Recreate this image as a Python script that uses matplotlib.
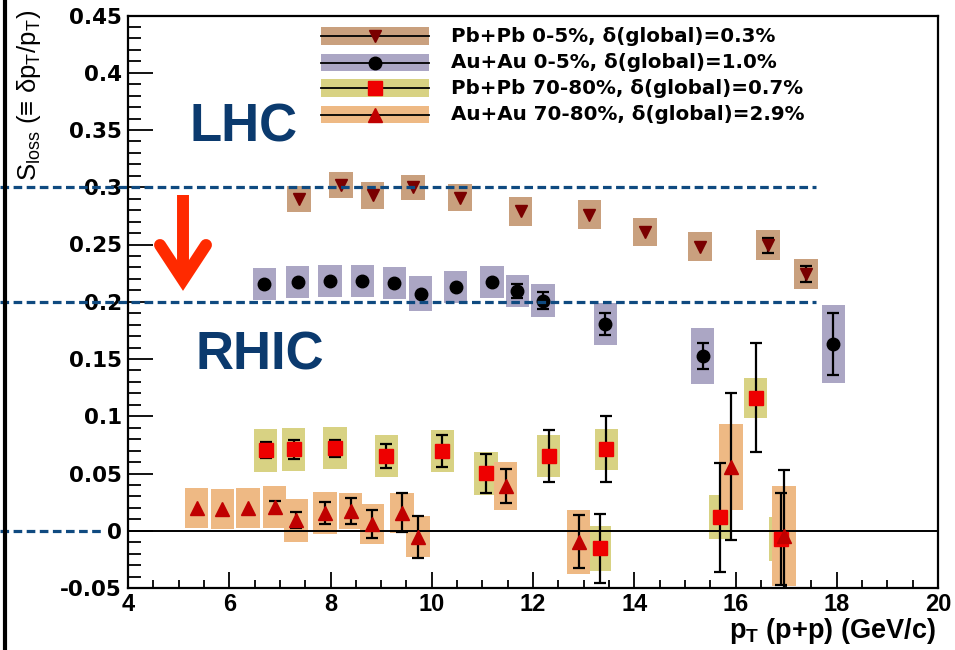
import matplotlib
matplotlib.use('Agg')
import matplotlib.pyplot as plt
import numpy as np
from matplotlib.patches import Rectangle
from matplotlib.transforms import blended_transform_factory
from matplotlib.ticker import FixedLocator, MultipleLocator

plt.rcParams['mathtext.fontset'] = 'custom'
plt.rcParams['mathtext.rm'] = 'Liberation Sans'
plt.rcParams['mathtext.it'] = 'Liberation Sans'
plt.rcParams['mathtext.bf'] = 'Liberation Sans:bold'

# ---------------- data ----------------
# Pb+Pb 0-5%
pbpb_c_x = [7.38, 8.21, 8.83, 9.63, 10.56, 11.76, 13.11, 14.21, 15.30, 16.64, 17.39]
pbpb_c_y = [0.290, 0.302, 0.293, 0.300, 0.291, 0.279, 0.276, 0.261, 0.248, 0.2495, 0.224]
pbpb_c_stat = [0, 0, 0, 0, 0, 0, 0, 0, 0, 0.0065, 0.007]
pbpb_c_sys = [0.0115, 0.011, 0.012, 0.011, 0.012, 0.0125, 0.0125, 0.012, 0.0125, 0.013, 0.013]

# Au+Au 0-5%
auau_c_x = [6.69, 7.35, 7.99, 8.63, 9.26, 9.78, 10.47, 11.19, 11.69, 12.20, 13.43, 15.35, 17.93]
auau_c_y = [0.2155, 0.217, 0.218, 0.218, 0.2166, 0.207, 0.2126, 0.2175, 0.2093, 0.201, 0.1805, 0.1529, 0.163]
auau_c_stat = [0, 0, 0, 0, 0, 0, 0, 0, 0.0058, 0.0075, 0.0095, 0.0112, 0.0272]
auau_c_sys = [0.014, 0.014, 0.0138, 0.0138, 0.014, 0.0155, 0.014, 0.014, 0.014, 0.0143, 0.018, 0.0243, 0.034]

# Pb+Pb 70-80%
pbpb_p_x = [6.72, 7.27, 8.09, 9.10, 10.21, 11.07, 12.31, 13.32, 13.45, 15.70, 16.40, 16.90]
pbpb_p_y = [0.0702, 0.0711, 0.072, 0.0652, 0.0696, 0.0501, 0.0652, -0.0154, 0.0711, 0.0117, 0.1162, -0.0072]
pbpb_p_stat = [0.007, 0.0083, 0.0076, 0.0104, 0.0141, 0.0173, 0.0225, 0.030, 0.0289, 0.0476, 0.0475, 0.040]
pbpb_p_sys = [0.0185, 0.0185, 0.0182, 0.0185, 0.0182, 0.0187, 0.018, 0.0197, 0.0178, 0.0192, 0.0173, 0.0192]

# Au+Au 70-80%
auau_p_x = [5.36, 5.86, 6.37, 6.90, 7.32, 7.89, 8.40, 8.82, 9.41, 9.73, 11.46, 12.90, 15.91, 16.96]
auau_p_y = [0.0196, 0.0187, 0.0196, 0.0207, 0.0093, 0.0157, 0.0172, 0.0058, 0.0157, -0.0052, 0.039, -0.0096, 0.0559, -0.0046]
auau_p_stat = [0, 0, 0, 0.0055, 0.0067, 0.0095, 0.0113, 0.0124, 0.0172, 0.0185, 0.0146, 0.023, 0.0642, 0.058]
auau_p_sys = [0.0175, 0.0175, 0.0175, 0.0182, 0.0188, 0.0183, 0.0159, 0.0175, 0.0175, 0.018, 0.021, 0.0281, 0.0375, 0.0435]

legend_labels = ['Pb+Pb 0-5%, δ(global)=0.3%',
                 'Au+Au 0-5%, δ(global)=1.0%',
                 'Pb+Pb 70-80%, δ(global)=0.7%',
                 'Au+Au 70-80%, δ(global)=2.9%']

xticks = [4, 6, 8, 10, 12, 14, 16, 18, 20]
xtick_labels = ['4', '6', '8', '10', '12', '14', '16', '18', '20']
yticks = [-0.05, 0, 0.05, 0.1, 0.15, 0.2, 0.25, 0.3, 0.35, 0.4, 0.45]
ytick_labels = ['-0.05', '0', '0.05', '0.1', '0.15', '0.2', '0.25', '0.3', '0.35', '0.4', '0.45']
ref_levels = [0.3, 0.2]

# ---------------- styles ----------------
W, H = 955, 650
BOXW = 0.46
series = [
    (pbpb_c_x, pbpb_c_y, pbpb_c_stat, pbpb_c_sys, '#c9a07e', 'v', '#7a0000', 9),
    (auau_c_x, auau_c_y, auau_c_stat, auau_c_sys, '#aba6c4', 'o', 'black', 9),
    (pbpb_p_x, pbpb_p_y, pbpb_p_stat, pbpb_p_sys, '#d8d283', 's', '#ee0000', 9.5),
    (auau_p_x, auau_p_y, auau_p_stat, auau_p_sys, '#eeb984', '^', '#c00000', 9.5),
]

fig = plt.figure(figsize=(W / 100, H / 100), dpi=100)
ax = fig.add_axes([128 / W, 1 - 588 / H, 810 / W, 572.5 / H])
ax.set_xlim(4, 20)
ax.set_ylim(-0.05, 0.45)

for x, y, st, sy, bc, mk, mc, ms in series:
    x = np.asarray(x); y = np.asarray(y); st = np.asarray(st); sy = np.asarray(sy)
    for xi, yi, si in zip(x, y, sy):
        ax.add_patch(Rectangle((xi - BOXW / 2, yi - si), BOXW, 2 * si,
                               facecolor=bc, edgecolor='none', zorder=2))
for x, y, st, sy, bc, mk, mc, ms in series:
    x = np.asarray(x); y = np.asarray(y); st = np.asarray(st)
    m = st > 0
    ax.errorbar(x[m], y[m], yerr=st[m], fmt='none', ecolor='black',
                elinewidth=1.6, capsize=4, capthick=1.6, zorder=4)
    ax.plot(x, y, ls='none', marker=mk, color=mc, ms=ms, mec=mc, zorder=5)

ax.axhline(0, color='black', lw=1.4, zorder=3)

# dashed reference lines extending outside the frame
trans = blended_transform_factory(fig.transFigure, ax.transData)
dcol = '#0f4a80'
for lv in ref_levels:
    ax.plot([0, 816 / W], [lv, lv], transform=trans, clip_on=False,
            color=dcol, lw=2.3, ls=(0, (2.7, 1.4)), zorder=6)
ax.plot([0, 103 / W], [0, 0], transform=trans, clip_on=False,
        color=dcol, lw=2.3, ls=(0, (2.7, 1.4)), zorder=6)

# ticks
ax.xaxis.set_major_locator(FixedLocator(xticks))
ax.xaxis.set_minor_locator(MultipleLocator(0.5))
ax.yaxis.set_major_locator(FixedLocator(yticks))
ax.yaxis.set_minor_locator(MultipleLocator(0.01))
ax.set_xticklabels(xtick_labels, fontfamily='Liberation Sans', fontweight='bold', fontsize=17)
ax.set_yticklabels(ytick_labels, fontfamily='DejaVu Sans', fontweight='bold', fontsize=15.5)
ax.tick_params(axis='x', which='major', direction='in', length=11.5, width=1.3, pad=3.5, top=False)
ax.tick_params(axis='x', which='minor', direction='in', length=5.8, width=1.3, top=False)
ax.tick_params(axis='y', which='major', direction='in', length=18, width=1.3, pad=4.3, right=False)
ax.tick_params(axis='y', which='minor', direction='in', length=9.4, width=1.3, right=False)
for s in ax.spines.values():
    s.set_linewidth(1.6)
    s.set_color('black')

fig.text(29 / W, 1 - 10 / H, r'$\mathrm{S_{loss}}$ (≡ δ$\mathrm{p_{T}}$/$\mathrm{p_{T}}$)',
         rotation=90, ha='center', va='top', fontsize=18.5, family='Liberation Sans')
fig.text(936 / W, 1 - 638 / H, r'$\mathbf{p_{T}}$ (p+p) (GeV/c)',
         ha='right', va='baseline', fontsize=19.5, family='Liberation Sans', fontweight='bold')

# ---------------- overlay annotations (pixel coordinates) ----------------
ov = fig.add_axes([0, 0, 1, 1], zorder=10)
ov.set_xlim(0, W)
ov.set_ylim(H, 0)
ov.axis('off')
ov.patch.set_alpha(0)

ov.plot([4.7, 4.7], [0, H], color='black', lw=3)

ov.text(244, 141.5, 'LHC', fontsize=38, fontweight='bold', color='#0b3a6e',
        ha='center', va='baseline', family='Liberation Sans')
ov.text(260, 370, 'RHIC', fontsize=38, fontweight='bold', color='#0b3a6e',
        ha='center', va='baseline', family='Liberation Sans')

acol = '#ff2a00'
ov.plot([183, 183], [195, 272], color=acol, lw=8.6, solid_capstyle='butt')
ov.plot([160, 183, 206], [245, 280, 245], color=acol, lw=8.6,
        solid_capstyle='round', solid_joinstyle='miter')

row_y = [36.2, 62.5, 88, 114.5]
for (x, y, st, sy, bc, mk, mc, ms), ry, lab in zip(series, row_y, legend_labels):
    ov.add_patch(Rectangle((320.7, ry - 8.8), 108.6, 17.6, facecolor=bc, edgecolor='none'))
    ov.plot([320.7, 429.3], [ry, ry], color='black', lw=1.3)
    ov.plot([375], [ry], marker=mk, color=mc, ms=ms, ls='none')
    ov.text(451, ry, lab, fontsize=14.3, fontweight='bold', family='DejaVu Sans',
            ha='left', va='center', color='black')

fig.savefig('out.png', dpi=100)
